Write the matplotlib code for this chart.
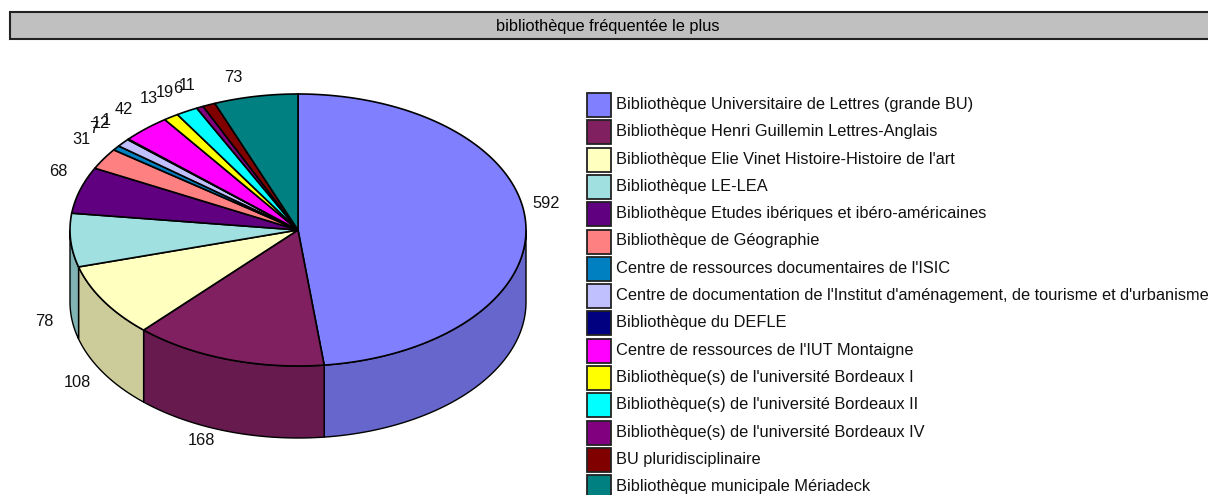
import matplotlib
matplotlib.use("Agg")
import matplotlib.pyplot as plt
from matplotlib.patches import Polygon, Rectangle
import numpy as np

plt.rcParams['font.family'] = ['Liberation Sans', 'DejaVu Sans']

title = "bibliothèque fréquentée le plus"
categories = [
    "Bibliothèque Universitaire de Lettres (grande BU)",
    "Bibliothèque Henri Guillemin Lettres-Anglais",
    "Bibliothèque Elie Vinet Histoire-Histoire de l'art",
    "Bibliothèque LE-LEA",
    "Bibliothèque Etudes ibériques et ibéro-américaines",
    "Bibliothèque de Géographie",
    "Centre de ressources documentaires de l'ISIC",
    "Centre de documentation de l'Institut d'aménagement, de tourisme et d'urbanisme",
    "Bibliothèque du DEFLE",
    "Centre de ressources de l'IUT Montaigne",
    "Bibliothèque(s) de l'université Bordeaux I",
    "Bibliothèque(s) de l'université Bordeaux II",
    "Bibliothèque(s) de l'université Bordeaux IV",
    "BU pluridisciplinaire",
    "Bibliothèque municipale Mériadeck",
]
values = [592, 168, 108, 78, 68, 31, 7, 12, 1, 42, 13, 19, 6, 11, 73]
colors = ['#8080FF', '#802060', '#FFFFC0', '#A0E0E0', '#600080', '#FF8080', '#0080C0', '#C0C0FF',
          '#000080', '#FF00FF', '#FFFF00', '#00FFFF', '#800080', '#800000', '#008080']

cx, cy = 298, 230
a, b = 228, 136
depth = 72


def arc(t0, t1):
    # angles clockwise from the top, in degrees
    t = np.radians(np.linspace(t0, t1, max(int(abs(t1 - t0)) * 2, 2)))
    return np.column_stack([cx + a * np.sin(t), cy - b * np.cos(t)])


def darker(c, f=0.8):
    rgb = np.array(matplotlib.colors.to_rgb(c))
    return tuple(rgb * f)


fig = plt.figure(figsize=(12.08, 4.95), dpi=100)
ax = fig.add_axes([0, 0, 1, 1])
ax.set_xlim(0, 1208)
ax.set_ylim(495, 0)
ax.axis('off')

# title bar
ax.add_patch(Rectangle((9.5, 12), 1300, 27, facecolor='#C0C0C0', edgecolor='#222222', lw=1.5, clip_on=True))
ax.text(608, 27, title, ha='center', va='center', fontsize=11.8)

edges = np.concatenate([[0], np.cumsum(values)]) / sum(values) * 360

# side walls (front half only)
for i, v in enumerate(values):
    t0, t1 = max(edges[i], 90), min(edges[i + 1], 270)
    if t1 <= t0:
        continue
    top = arc(t0, t1)
    low = top[::-1] + [0, depth]
    ax.add_patch(Polygon(np.vstack([top, low]), closed=True, facecolor=darker(colors[i]),
                         edgecolor='black', lw=1.0))

# top face
for i, v in enumerate(values):
    pts = np.vstack([[cx, cy], arc(edges[i], edges[i + 1])])
    ax.add_patch(Polygon(pts, closed=True, facecolor=colors[i], edgecolor='black', lw=1.2))

# value labels
for i, v in enumerate(values):
    mid = np.radians((edges[i] + edges[i + 1]) / 2)
    x = cx + a * np.sin(mid)
    y = cy - b * np.cos(mid)
    if np.cos(mid) >= 0:
        y -= 19
        x += 21 if np.sin(mid) > 0 else -22
    else:
        y += 81
        x -= 26
    ax.text(x, y, str(v), ha='center', va='center', fontsize=11.8, color='#111111')

# legend
for i, name in enumerate(categories):
    yc = 105 + i * 27.3
    ax.add_patch(Rectangle((587, yc - 12), 24, 24, facecolor=colors[i], edgecolor='#222222', lw=1.3))
    ax.text(616, yc - 0.5, name, ha='left', va='center', fontsize=11.8, color='#111111')

fig.savefig("out.png", dpi=100)
